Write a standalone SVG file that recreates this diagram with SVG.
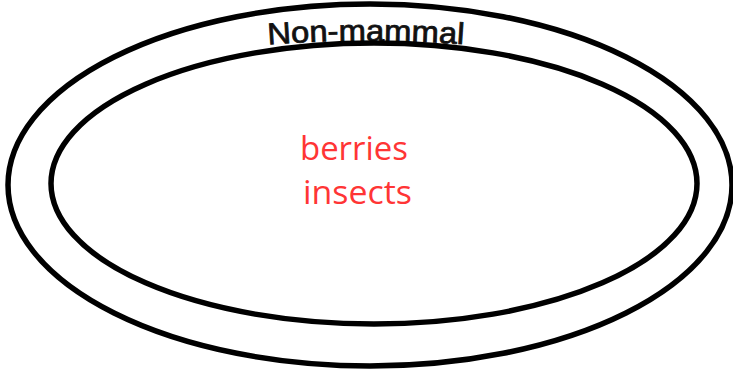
<svg xmlns="http://www.w3.org/2000/svg" width="733" height="370" viewBox="0 0 733 370">
<style>
.ring{fill:none;stroke:#000;stroke-width:5.5}
.title{font-family:"Liberation Sans","DejaVu Sans",sans-serif;font-size:30px;fill:#111;stroke:#111;stroke-width:0.8}
.item{font-family:"Open Sans","Noto Sans",sans-serif;font-size:33px;fill:#ff3535}
</style>
<defs>
<path id="arc" d="M262,45 A1354,1354 0 0 1 472,45"/>
</defs>
<rect width="733" height="370" fill="#fff"/>
<g id="outer">
<ellipse class="ring" cx="370" cy="185" rx="362" ry="181"/>
<text class="title"><textPath href="#arc" startOffset="6" textLength="196" lengthAdjust="spacingAndGlyphs">Non-mammal</textPath></text>
</g>
<g id="inner">
<ellipse class="ring" cx="374" cy="183.5" rx="323" ry="140.5"/>
<text class="item" x="300" y="160" textLength="108" lengthAdjust="spacingAndGlyphs">berries</text>
<text class="item" x="303" y="204" textLength="109" lengthAdjust="spacingAndGlyphs">insects</text>
</g>
<g id="connectors"></g>
</svg>
